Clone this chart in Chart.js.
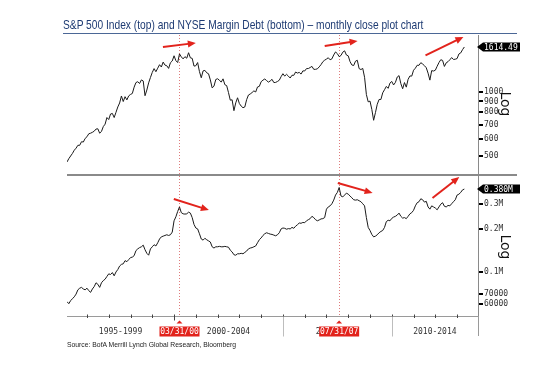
<!DOCTYPE html>
<html>
<head>
<meta charset="utf-8">
<script src="https://cdn.jsdelivr.net/npm/chart.js@4.4.1/dist/chart.umd.min.js"></script>
<style>
  body { margin: 0; background: #fff; width: 553px; height: 369px; overflow: hidden; position: relative; }
  canvas { position: absolute; left: 0; top: 0; }
  #title { position: absolute; left: 63px; top: 17px; font: 13px "Liberation Sans", sans-serif; color: #1e3b73; white-space: nowrap; transform: scaleX(0.786); transform-origin: 0 0; }
  #rule { position: absolute; left: 63px; top: 33px; width: 454px; height: 1px; background: #4b6796; }
  #sep { position: absolute; left: 67px; top: 174px; width: 450px; height: 2px; background: #8a8a8a; }
  #source { position: absolute; left: 67px; top: 340px; font: 8px "Liberation Sans", sans-serif; color: #222; white-space: nowrap; transform: scaleX(0.85); transform-origin: 0 0; }
</style>
</head>
<body>
<canvas id="top" width="553" height="369"></canvas>
<canvas id="bottom" width="553" height="369"></canvas>
<div id="title">S&amp;P 500 Index (top) and NYSE Margin Debt (bottom) – monthly close plot chart</div>
<div id="rule"></div>
<div id="sep"></div>
<div id="source">Source: BofA Merrill Lynch Global Research, Bloomberg</div>
<script>
// monthly closes, Jan 1995 .. Apr 2013
const startYear = 1995;

const spxClose = [
  470, 487, 501, 515, 533, 545, 562, 562, 584, 582, 605, 616,        // 1995
  636, 640, 646, 654, 669, 671, 640, 652, 687, 705, 757, 741,        // 1996
  786, 791, 757, 801, 848, 885, 954, 899, 947, 915, 955, 970,        // 1997
  980, 1049, 1102, 1112, 1091, 1134, 1121, 957, 1017, 1099, 1164, 1229, // 1998
  1280, 1238, 1286, 1335, 1302, 1373, 1329, 1320, 1283, 1363, 1389, 1469, // 1999
  1394, 1366, 1499, 1452, 1421, 1455, 1431, 1518, 1437, 1429, 1315, 1320, // 2000
  1366, 1240, 1160, 1249, 1256, 1224, 1211, 1134, 1041, 1060, 1139, 1148, // 2001
  1130, 1107, 1147, 1077, 1067, 990, 912, 916, 815, 886, 936, 880,   // 2002
  856, 841, 848, 917, 964, 975, 990, 1008, 996, 1051, 1058, 1112,    // 2003
  1131, 1145, 1126, 1107, 1121, 1141, 1102, 1104, 1115, 1130, 1174, 1212, // 2004
  1181, 1204, 1181, 1157, 1192, 1191, 1234, 1220, 1229, 1207, 1249, 1248, // 2005
  1280, 1281, 1295, 1311, 1270, 1270, 1277, 1304, 1336, 1378, 1401, 1418, // 2006
  1438, 1407, 1421, 1482, 1531, 1503, 1455, 1474, 1527, 1549, 1481, 1468, // 2007
  1379, 1331, 1323, 1386, 1400, 1280, 1267, 1283, 1166, 969, 896, 903,    // 2008
  826, 735, 798, 873, 919, 919, 987, 1021, 1057, 1036, 1096, 1115,    // 2009
  1074, 1104, 1169, 1187, 1089, 1031, 1102, 1049, 1141, 1183, 1181, 1258, // 2010
  1286, 1327, 1326, 1364, 1345, 1321, 1292, 1219, 1131, 1253, 1247, 1258, // 2011
  1312, 1366, 1408, 1398, 1310, 1362, 1379, 1407, 1441, 1412, 1416, 1426, // 2012
  1498, 1515, 1569, 1614.49                                          // 2013
];

// NYSE margin debt, thousands of $ mn
const marginDebtK = [
  62, 60, 63, 65, 67, 70, 75, 77, 78, 76, 75, 77,
  74, 72, 76, 79, 84, 82, 78, 84, 87, 89, 93, 97,
  96, 99, 94, 100, 104, 110, 113, 114, 120, 118, 122, 126,
  127, 130, 141, 145, 148, 150, 154, 143, 135, 131, 145, 150,
  155, 152, 160, 170, 176, 178, 180, 182, 180, 182, 190, 228,
  243, 265, 285, 260, 255, 254, 255, 262, 258, 240, 215, 203,
  200, 185, 170, 167, 172, 168, 165, 162, 150, 147, 150, 150,
  151, 150, 150, 151, 150, 149, 142, 138, 132, 131, 134, 134,
  135, 134, 137, 140, 145, 147, 148, 150, 152, 160, 168, 173,
  180, 185, 188, 186, 184, 183, 181, 179, 182, 188, 200, 203,
  202, 199, 201, 200, 205, 202, 209, 214, 220, 219, 222, 221,
  228, 232, 236, 245, 240, 232, 228, 231, 235, 236, 240, 275,
  285, 290, 300, 318, 345, 360, 390, 340, 335, 345, 356, 350,
  340, 330, 320, 318, 320, 315, 310, 300, 290, 240, 205, 195,
  183, 176, 178, 182, 188, 192, 195, 205, 225, 230, 228, 237,
  242, 245, 250, 258, 245, 238, 240, 236, 245, 255, 260, 270,
  290, 305, 310, 325, 320, 308, 312, 285, 275, 290, 285, 280,
  272, 285, 298, 305, 288, 285, 292, 290, 300, 310, 320, 345,
  350, 360, 375, 380
];

const spxTicks = [500, 600, 700, 800, 900, 1000];
const debtTicks = [60, 70, 100, 200, 300];
const debtTickLabels = ['60000', '70000', '0.1M', '0.2M', '0.3M'];
const spxLastLabel = '1614.49';
const debtLastLabel = '0.380M';

const periodStarts = [1995, 2000, 2005, 2010, 2015];
const periodLabels = ['1995-1999', '2000-2004', '2005-2009', '2010-2014'];
const eventDates = [2000.25, 2007.583];
const eventLabels = ['03/31/00', '07/31/07'];

// arrows: [year, value, year, value]
const spxArrows = [[1999.49, 1615, 2001.0, 1686], [2006.92, 1633, 2008.43, 1722], [2011.55, 1475, 2013.29, 1797]];
const debtArrows = [[1999.99, 324, 2001.6, 271], [2007.52, 419, 2009.12, 357], [2011.87, 329, 2013.1, 461]];

const xMin = startYear + 1 / 12;
const xMax = 2013.96;
const monthX = i => startYear + (i + 1) / 12;

const RED = '#e2231c';
const MONO = '"DejaVu Sans Mono", monospace';

function drawArrow(ctx, x1, y1, x2, y2) {
  const a = Math.atan2(y2 - y1, x2 - x1), L = 8, W = 3.5;
  const c = Math.cos(a), s = Math.sin(a);
  ctx.strokeStyle = RED; ctx.fillStyle = RED; ctx.lineWidth = 2;
  ctx.beginPath(); ctx.moveTo(x1, y1); ctx.lineTo(x2 - L * 0.7 * c, y2 - L * 0.7 * s); ctx.stroke();
  ctx.beginPath();
  ctx.moveTo(x2, y2);
  ctx.lineTo(x2 - L * c + W * s, y2 - L * s - W * c);
  ctx.lineTo(x2 - L * c - W * s, y2 - L * s + W * c);
  ctx.closePath(); ctx.fill();
}

function panelPlugin(arrows, lastValue, lastLabel, logY, isBottom) {
  return {
    id: 'panel',
    beforeDatasetsDraw(chart) {
      const { ctx, chartArea: a, scales: { x } } = chart;
      ctx.save();
      ctx.strokeStyle = 'rgba(215,90,90,0.8)';
      ctx.lineWidth = 1;
      ctx.setLineDash([1, 2]);
      eventDates.forEach(d => {
        const px = Math.round(x.getPixelForValue(d)) + 0.5;
        ctx.beginPath(); ctx.moveTo(px, a.top); ctx.lineTo(px, a.bottom + (isBottom ? 0 : 2)); ctx.stroke();
      });
      ctx.restore();
    },
    afterDraw(chart) {
      const { ctx, chartArea: a, scales: { x, y } } = chart;
      ctx.save();
      arrows.forEach(r => drawArrow(ctx, x.getPixelForValue(r[0]), y.getPixelForValue(r[1]),
        x.getPixelForValue(r[2]), y.getPixelForValue(r[3])));

      // last value box
      const vy = Math.round(y.getPixelForValue(lastValue));
      const bx = a.right + 2;
      ctx.fillStyle = '#000';
      ctx.beginPath();
      ctx.moveTo(a.right - 1, vy);
      ctx.lineTo(bx + 3, vy - 4.5);
      ctx.lineTo(bx + 40, vy - 4.5);
      ctx.lineTo(bx + 40, vy + 4.5);
      ctx.lineTo(bx + 3, vy + 4.5);
      ctx.closePath(); ctx.fill();
      ctx.fillStyle = '#fff';
      ctx.font = '8px ' + MONO;
      ctx.textBaseline = 'middle';
      ctx.textAlign = 'left';
      ctx.fillText(lastLabel, bx + 4, vy + 0.5);

      // rotated "Log"
      ctx.save();
      ctx.translate(a.right + 27, logY);
      ctx.rotate(Math.PI / 2);
      ctx.fillStyle = '#111';
      ctx.font = '14px "DejaVu Sans", sans-serif';
      ctx.textAlign = 'center';
      ctx.textBaseline = 'middle';
      ctx.fillText('Log', 0, 0);
      ctx.restore();

      if (isBottom) {
        const ay = a.bottom + 0.5;
        ctx.strokeStyle = '#9a9a9a'; ctx.lineWidth = 1;
        ctx.beginPath(); ctx.moveTo(a.left, ay); ctx.lineTo(a.right, ay); ctx.stroke();
        // right axis runs on below the axis
        ctx.beginPath(); ctx.moveTo(a.right + 0.5, a.bottom); ctx.lineTo(a.right + 0.5, a.bottom + 20); ctx.stroke();

        // yearly ticks
        ctx.strokeStyle = '#444';
        for (let yr = 1996; yr <= 2013; yr++) {
          const px = Math.round(x.getPixelForValue(yr)) + 0.5;
          const big = yr % 5 === 0;
          ctx.beginPath(); ctx.moveTo(px, ay - 2); ctx.lineTo(px, ay + (big ? 4 : 1.5)); ctx.stroke();
        }
        // period boundaries below axis
        ctx.strokeStyle = '#bdbdbd';
        [2005, 2010].forEach(yr => {
          const px = Math.round(x.getPixelForValue(yr)) + 0.5;
          ctx.beginPath(); ctx.moveTo(px, ay); ctx.lineTo(px, ay + 20); ctx.stroke();
        });
        // period labels centred on their visible span
        ctx.fillStyle = '#333';
        ctx.font = '8px ' + MONO;
        ctx.textAlign = 'center';
        ctx.textBaseline = 'middle';
        periodLabels.forEach((t, i) => {
          const l = x.getPixelForValue(Math.max(periodStarts[i], xMin));
          const r = x.getPixelForValue(Math.min(periodStarts[i + 1], xMax));
          ctx.fillText(t, (l + r) / 2, ay + 15);
        });
        // event markers
        eventDates.forEach((d, i) => {
          const px = x.getPixelForValue(d);
          ctx.fillStyle = RED;
          ctx.beginPath();
          ctx.moveTo(px, ay + 4); ctx.lineTo(px + 3, ay + 7); ctx.lineTo(px - 3, ay + 7);
          ctx.closePath(); ctx.fill();
          ctx.fillRect(px - 20, ay + 10, 40, 10);
          ctx.fillStyle = '#fff';
          ctx.fillText(eventLabels[i], px, ay + 15.5);
        });
      }
      ctx.restore();
    }
  };
}

function yScale(min, max, ticks, labels) {
  return {
    type: 'logarithmic',
    position: 'right',
    min: min,
    max: max,
    afterBuildTicks: s => { s.ticks = ticks.map(v => ({ value: v })); },
    afterFit: s => { s.width = 75; },
    grid: { drawOnChartArea: false, drawTicks: true, tickLength: 5, color: '#000', lineWidth: 2 },
    border: { display: true, color: '#8a8a8a', width: 1 },
    ticks: {
      padding: 1,
      color: '#333',
      font: { family: MONO, size: 8 },
      callback: v => { const k = ticks.indexOf(v); return k < 0 ? '' : labels[k]; }
    }
  };
}

function baseOptions(padding, y) {
  return {
    responsive: false,
    animation: false,
    layout: { padding: padding },
    plugins: { legend: { display: false }, tooltip: { enabled: false } },
    scales: {
      x: { type: 'linear', min: xMin, max: xMax, display: false },
      y: y
    }
  };
}

function lineSet(values) {
  return {
    data: values.map((v, i) => ({ x: monthX(i), y: v })),
    borderColor: '#1a1a1a',
    borderWidth: 1,
    pointRadius: 0,
    tension: 0,
    fill: false
  };
}

new Chart(document.getElementById('top'), {
  type: 'line',
  data: { datasets: [lineSet(spxClose)] },
  options: baseOptions({ left: 67, top: 35, bottom: 195, right: 0 },
    yScale(413, 1836, spxTicks, spxTicks.map(String))),
  plugins: [panelPlugin(spxArrows, spxClose[spxClose.length - 1], spxLastLabel, 104, false)]
});

new Chart(document.getElementById('bottom'), {
  type: 'line',
  data: { datasets: [lineSet(marginDebtK)] },
  options: baseOptions({ left: 67, top: 176, bottom: 53, right: 0 },
    yScale(49.2, 469, debtTicks, debtTickLabels)),
  plugins: [panelPlugin(debtArrows, marginDebtK[marginDebtK.length - 1], debtLastLabel, 247, true)]
});
</script>
</body>
</html>
